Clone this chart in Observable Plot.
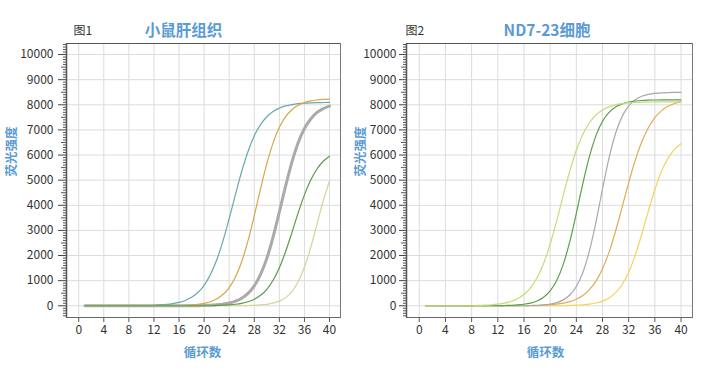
<!DOCTYPE html>
<html>
<head>
<meta charset="utf-8">
<script src="https://cdn.jsdelivr.net/npm/d3@7"></script>
<script src="https://cdn.jsdelivr.net/npm/@observablehq/plot@0.6"></script>
<style>
  html, body { margin: 0; padding: 0; background: #fff; }
  #wrap { display: flex; width: 704px; height: 372px; }
  #wrap > div { width: 352px; height: 372px; }
</style>
</head>
<body>
<div id="wrap"><div id="c1"></div><div id="c2"></div></div>
<script>
// ---- data ----
const cycles = [1,2,3,4,5,6,7,8,9,10,11,12,13,14,15,16,17,18,19,20,21,22,23,24,25,26,27,28,29,30,31,32,33,34,35,36,37,38,39,40];
const xTickValues = [0,4,8,12,16,20,24,28,32,36,40];
const yTickValues = [0,1000,2000,3000,4000,5000,6000,7000,8000,9000,10000];

const chart1Title = "小鼠肝组织";
const chart1Label = "图1";
const chart2Title = "ND7-23细胞";
const chart2Label = "图2";
const xLabel = "循环数";
const yLabel = "荧光强度";

// Chart 1: 小鼠肝组织
const liverTeal   = [0,0,0,0,0,0,0,0,0,0, 0,20,32,52,83,132,211,335,526,815, 1240,1820,2576,3474,4433,5354,6140,6765,7210,7525, 7735,7867,7954,8009,8043,8064,8078,8086,8091,8095];
const liverOrange = [0,0,0,0,0,0,0,0,0,0, 0,0,0,0,0,0,20,35,58,97, 162,269,446,724,1147,1765,2590,3589,4661,5660, 6485,7103,7526,7804,7981,8088,8153,8192,8215,8229];
const liverGray   = [0,0,0,0,0,0,0,0,0,0, 0,0,0,0,0,0,0,0,0,14, 24,40,66,111,184,303,495,794,1247,1887, 2738,3735,4771,5718,6488,7055,7436,7695,7849,7950];
const liverGreen  = [0,0,0,0,0,0,0,0,0,0, 0,0,0,0,0,0,0,0,0,0, 0,14,22,36,60,98,160,259,416,657, 1014,1512,2161,2914,3696,4414,5002,5443,5752,5954];
const liverKhaki  = [0,0,0,0,0,0,0,0,0,0, 0,0,0,0,0,0,0,0,0,0, 0,0,0,0,0,0,10,18,33,58, 104,185,325,565,956,1533,2321,3250,4179,4967];

// Chart 2: ND7-23细胞
const cellLightGreen = [0,0,0,0,0,0,0,0,14,24, 39,64,105,171,278,448,714,1113,1686,2450, 3376,4394,5360,6190,6830,7284,7592,7791,7917,7996, 8044,8074,8092,8103,8109,8113,8115,8117,8118,8119];
const cellGreen      = [0,0,0,0,0,0,0,0,0,0, 0,0,10,19,33,60,107,190,337,589, 1004,1648,2550,3680,4871,5945,6773,7344,7702,7914, 8039,8110,8150,8172,8184,8191,8195,8197,8198,8199];
const cellGray       = [0,0,0,0,0,0,0,0,0,0, 0,0,0,0,0,0,11,20,37,68, 127,235,427,765,1326,2185,3332,4648,5890,6867, 7539,7959,8201,8338,8412,8453,8475,8487,8493,8496];
const cellOrange     = [0,0,0,0,0,0,0,0,0,0, 0,0,0,0,0,0,0,0,25,40, 63,102,163,259,409,640,982,1475,2136,2977, 3929,4902,5793,6527,7088,7492,7759,7939,8053,8126];
const cellYellow     = [0,0,0,0,0,0,0,0,0,0, 0,0,0,0,0,0,0,0,0,0, 0,0,13,22,38,64,110,186,314,521, 847,1336,2016,2854,3766,4629,5340,5866,6222,6452];

const minorTicks = d3.range(-400, 10401, 100).filter(v => v % 500 !== 0);
const midTicks = d3.range(-0, 10401, 500).filter(v => v % 1000 !== 0);

function makeChart(cfg) {
  const font = "'Noto Sans CJK SC', 'Noto Sans', sans-serif";
  const lines = cfg.series.map(s =>
    Plot.line(cycles.map((c, i) => ({cycle: c, value: s.values[i]})), {
      x: "cycle", y: "value", stroke: s.color, strokeWidth: s.width || 1.2,
      curve: "monotone-x"
    })
  );
  return Plot.plot({
    width: 352,
    height: 372,
    marginLeft: cfg.ml,
    marginRight: 12,
    marginTop: 43,
    marginBottom: 55,
    style: {fontFamily: font, fontSize: "12px", color: "#333", background: "#fff", overflow: "visible"},
    x: {domain: [-1.95, 41.75]},
    y: {domain: [-467, 10440]},
    marks: [
      Plot.gridX(xTickValues, {stroke: "#dcdcdc", strokeOpacity: 1}),
      Plot.gridY(yTickValues, {stroke: "#dcdcdc", strokeOpacity: 1}),
      Plot.axisY(minorTicks, {tickSize: 3, text: null, stroke: "#555", label: null}),
      Plot.axisY(midTicks, {tickSize: 5, text: null, stroke: "#555", label: null}),
      Plot.axisY(yTickValues, {tickSize: cfg.tick, tickPadding: cfg.pad, tickFormat: d => String(d), stroke: "#444", fill: "#333", fontSize: 12, label: null}),
      Plot.axisX(xTickValues, {tickSize: 5, tickPadding: 3, tickFormat: d => String(d), stroke: "#555", fill: "#333", fontSize: 12, label: null}),
      Plot.frame({stroke: "#777"}),
      Plot.ruleX([-1.95], {stroke: "#555", strokeWidth: 1.5}),
      Plot.ruleY([-467], {stroke: "#666", strokeWidth: 1.2}),
      Plot.ruleY([10440], {stroke: "#555", strokeWidth: 1}),
      ...lines,
      Plot.text([cfg.title], {frameAnchor: "top", dx: cfg.titleDx, dy: -12, lineAnchor: "middle", fill: "#5b9bd5", fontWeight: "bold", fontSize: 15.5}),
      Plot.text([cfg.label], {frameAnchor: "top-left", dx: cfg.labelDx, dy: -12, lineAnchor: "middle", textAnchor: "start", fill: "#333", fontSize: 12}),
      Plot.text([xLabel], {frameAnchor: "bottom", dx: cfg.xlDx, dy: 35, lineAnchor: "middle", fill: "#5b9bd5", fontSize: 12.5, fontWeight: "bold"}),
      Plot.text([yLabel], {frameAnchor: "left", dx: cfg.ylDx, dy: -4, rotate: -90, lineAnchor: "middle", fill: "#5b9bd5", fontSize: 12.5, fontWeight: "bold"})
    ]
  });
}

document.getElementById("c1").append(makeChart({
  ml: 66, tick: 8, pad: 5,
  title: chart1Title, label: chart1Label,
  titleDx: -20, labelDx: 7, xlDx: -1, ylDx: -54.5,
  series: [
    {values: liverGray, color: "#aaaaaa", width: 3},
    {values: liverTeal, color: "#68a9ae"},
    {values: liverOrange, color: "#d9a647"},
    {values: liverKhaki, color: "#d7d19c"},
    {values: liverGreen, color: "#5b9a47"}
  ]
}));

document.getElementById("c2").append(makeChart({
  ml: 54, tick: 7, pad: 3,
  title: chart2Title, label: chart2Label,
  titleDx: -2.5, labelDx: -1, xlDx: -4, ylDx: -46,
  series: [
    {values: cellYellow, color: "#f4d35a"},
    {values: cellOrange, color: "#e2ab55"},
    {values: cellGray, color: "#a9a9a9"},
    {values: cellGreen, color: "#5d9e4c"},
    {values: cellLightGreen, color: "#c4dc7c"}
  ]
}));
</script>
</body>
</html>
